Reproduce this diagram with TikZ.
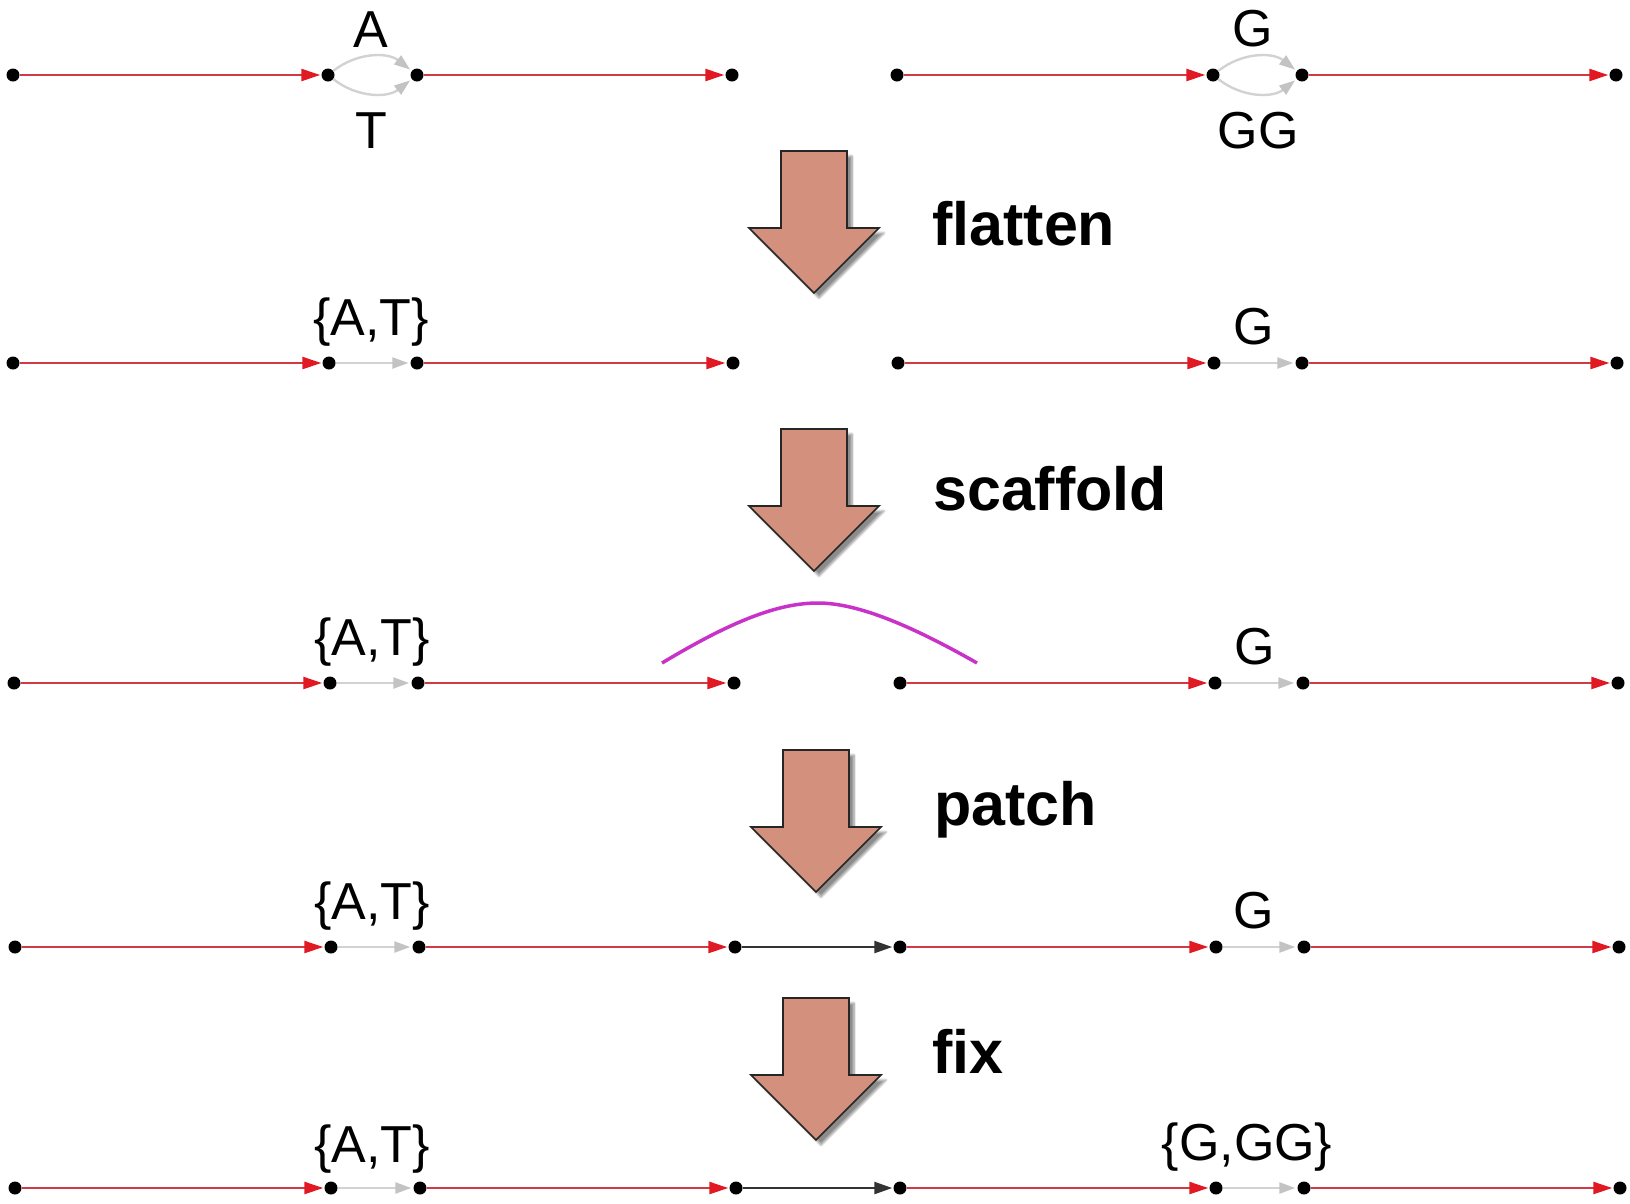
\documentclass[tikz,border=0pt]{standalone}
\usepackage{fontspec}
\setmainfont{Liberation Sans}
\usetikzlibrary{arrows.meta,shadows.blur}
\definecolor{edgered}{RGB}{208,58,66}
\definecolor{tipred}{RGB}{225,25,35}
\definecolor{edgegray}{RGB}{210,210,210}
\definecolor{tipgray}{RGB}{195,195,195}
\definecolor{blockfill}{RGB}{211,145,125}
\definecolor{scaffmag}{RGB}{200,50,200}
\tikzset{
  dot/.style={circle,fill=black,inner sep=0pt,minimum size=13pt},
  rededge/.style={draw=edgered,line width=2.4pt,-{Triangle[length=19pt,width=12pt,fill=tipred,color=tipred]},shorten >=1pt},
  grayedge/.style={draw=edgegray,line width=2.4pt,-{Triangle[length=16pt,width=11pt,fill=tipgray,color=tipgray]},shorten >=2pt},
  blackedge/.style={draw=black!80,line width=2.4pt,-{Triangle[length=18pt,width=12pt]},shorten >=1pt},
  lab/.style={anchor=base,inner sep=0pt,font=\fontsize{52}{60}\selectfont},
  oplab/.style={anchor=base west,inner sep=0pt,font=\fontsize{61}{70}\selectfont\bfseries},
  blk/.style={draw=black!85,line width=1.6pt,fill=blockfill,line join=miter,
    blur shadow={shadow xshift=5pt,shadow yshift=-5pt,shadow blur steps=8,shadow opacity=45}},
  scaff/.style={draw=scaffmag,line width=3.5pt}
}
\newcommand{\blockarr}[2]{%
  \begin{scope}[shift={(#1,#2)}]
    \path[blk] (-33,0) -- (33,0) -- (33,77) -- (65,77) -- (0,142) -- (-65,77) -- (-33,77) -- cycle;
  \end{scope}}
\begin{document}
\begin{tikzpicture}[x=1pt,y=-1pt]
\useasboundingbox (0,0) rectangle (1630,1203);
% ---------- Row 1 ----------
\node[dot] (a1) at (13,75) {};
\node[dot] (a2) at (328,75) {};
\node[dot] (a3) at (417,75) {};
\node[dot] (a4) at (732,75) {};
\node[dot] (a5) at (897,75) {};
\node[dot] (a6) at (1213,75) {};
\node[dot] (a7) at (1302,75) {};
\node[dot] (a8) at (1616,75) {};
\draw[rededge] (a1) -- (a2);
\draw[rededge] (a3) -- (a4);
\draw[rededge] (a5) -- (a6);
\draw[rededge] (a7) -- (a8);
\draw[grayedge] (a2) to[bend left=38] (a3);
\draw[grayedge] (a2) to[bend right=38] (a3);
\draw[grayedge] (a6) to[bend left=38] (a7);
\draw[grayedge] (a6) to[bend right=38] (a7);
\node[lab] (la1) at (371,47) {A};
\node[lab] (la2) at (371,148) {T};
\node[lab] (la3) at (1253,46) {G};
\node[lab] (la4) at (1258,148) {GG};
% arrow 1
\blockarr{814}{151}
\node[oplab] (op1) at (932,245) {flatten};
% ---------- Row 2 ----------
\node[dot] (b1) at (13,363) {};
\node[dot] (b2) at (329,363) {};
\node[dot] (b3) at (417,363) {};
\node[dot] (b4) at (733,363) {};
\node[dot] (b5) at (898,363) {};
\node[dot] (b6) at (1214,363) {};
\node[dot] (b7) at (1302,363) {};
\node[dot] (b8) at (1617,363) {};
\draw[rededge] (b1) -- (b2);
\draw[grayedge] (b2) -- (b3);
\draw[rededge] (b3) -- (b4);
\draw[rededge] (b5) -- (b6);
\draw[grayedge] (b6) -- (b7);
\draw[rededge] (b7) -- (b8);
\node[lab] (lb1) at (371,335) {\{A,T\}};
\node[lab] (lb2) at (1254,344) {G};
% arrow 2
\blockarr{814}{429}
\node[oplab] (op2) at (933,510) {scaffold};
% ---------- Row 3 ----------
\node[dot] (c1) at (14,683) {};
\node[dot] (c2) at (330,683) {};
\node[dot] (c3) at (418,683) {};
\node[dot] (c4) at (734,683) {};
\node[dot] (c5) at (900,683) {};
\node[dot] (c6) at (1215,683) {};
\node[dot] (c7) at (1303,683) {};
\node[dot] (c8) at (1618,683) {};
\draw[rededge] (c1) -- (c2);
\draw[grayedge] (c2) -- (c3);
\draw[rededge] (c3) -- (c4);
\draw[rededge] (c5) -- (c6);
\draw[grayedge] (c6) -- (c7);
\draw[rededge] (c7) -- (c8);
\node[lab] (lc1) at (372,655) {\{A,T\}};
\node[lab] (lc2) at (1255,664) {G};
\coordinate (s1) at (662,663);
\coordinate (sp) at (818,603);
\coordinate (s2) at (977,663);
\draw[scaff] (s1) .. controls (732,621) and (778,603) .. (sp)
                  .. controls (858,603) and (912,626) .. (s2);
% arrow 3
\blockarr{816}{750}
\node[oplab] (op3) at (934,825) {patch};
% ---------- Row 4 ----------
\node[dot] (d1) at (15,947) {};
\node[dot] (d2) at (331,947) {};
\node[dot] (d3) at (419,947) {};
\node[dot] (d4) at (735,947) {};
\node[dot] (d5) at (900,947) {};
\node[dot] (d6) at (1216,947) {};
\node[dot] (d7) at (1304,947) {};
\node[dot] (d8) at (1619,947) {};
\draw[rededge] (d1) -- (d2);
\draw[grayedge] (d2) -- (d3);
\draw[rededge] (d3) -- (d4);
\draw[blackedge] (d4) -- (d5);
\draw[rededge] (d5) -- (d6);
\draw[grayedge] (d6) -- (d7);
\draw[rededge] (d7) -- (d8);
\node[lab] (ld1) at (372,919) {\{A,T\}};
\node[lab] (ld2) at (1254,928) {G};
% arrow 4
\blockarr{816}{998}
\node[oplab] (op4) at (932,1073) {fix};
% ---------- Row 5 ----------
\node[dot] (e1) at (15,1188) {};
\node[dot] (e2) at (331,1188) {};
\node[dot] (e3) at (420,1188) {};
\node[dot] (e4) at (736,1188) {};
\node[dot] (e5) at (900,1188) {};
\node[dot] (e6) at (1216,1188) {};
\node[dot] (e7) at (1304,1188) {};
\node[dot] (e8) at (1620,1188) {};
\draw[rededge] (e1) -- (e2);
\draw[grayedge] (e2) -- (e3);
\draw[rededge] (e3) -- (e4);
\draw[blackedge] (e4) -- (e5);
\draw[rededge] (e5) -- (e6);
\draw[grayedge] (e6) -- (e7);
\draw[rededge] (e7) -- (e8);
\node[lab] (le1) at (372,1162) {\{A,T\}};
\node[lab] (le2) at (1247,1160) {\{G,GG\}};
\end{tikzpicture}
\end{document}
